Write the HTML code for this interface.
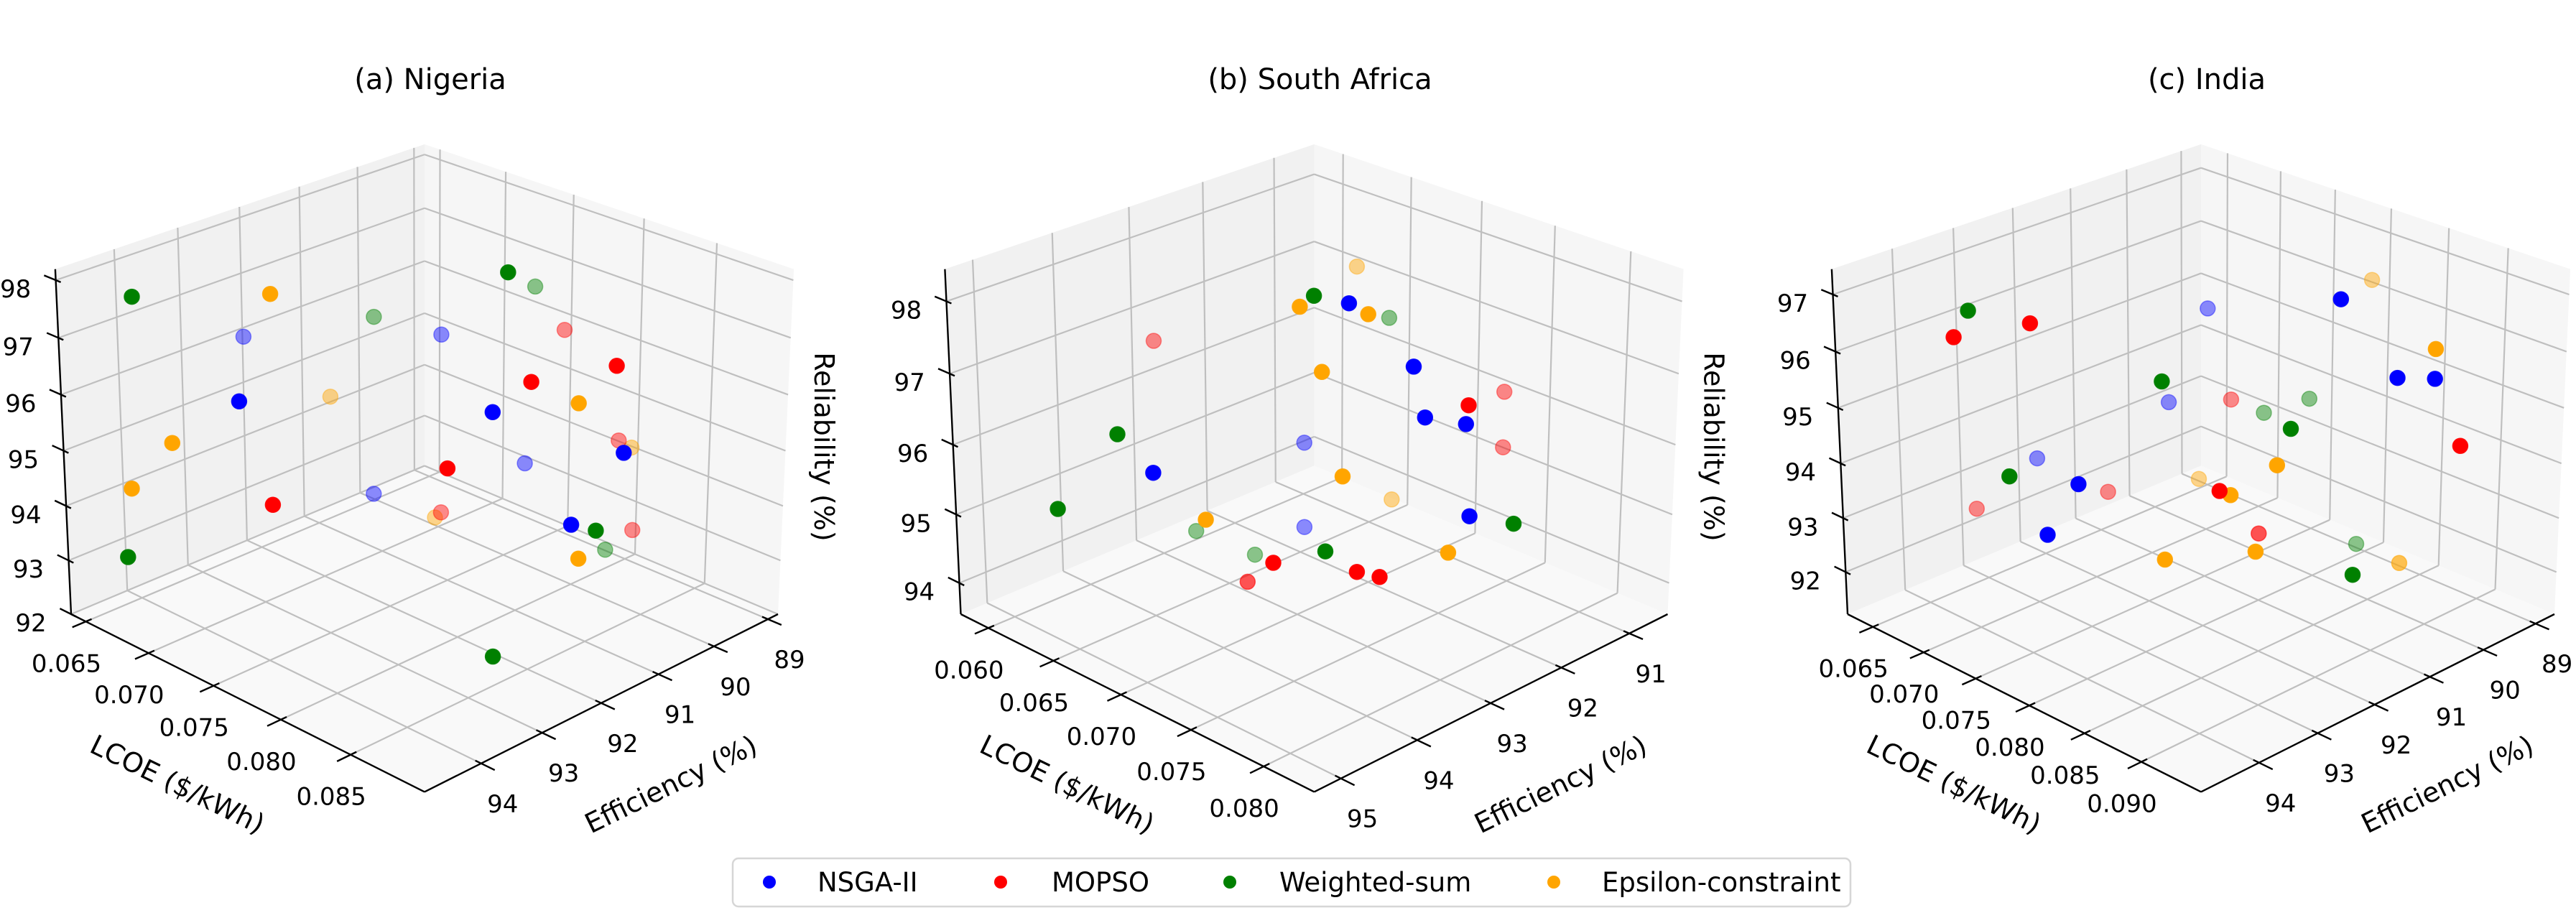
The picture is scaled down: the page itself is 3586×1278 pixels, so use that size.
<!DOCTYPE html>
<html><head><meta charset="utf-8"><style>
html,body{margin:0;padding:0;background:#fff;}
svg{display:block;font-family:"DejaVu Sans","Liberation Sans",sans-serif;}
</style></head><body>
<svg id="fig" width="3586" height="1278" viewBox="0 0 3586 1278" xmlns="http://www.w3.org/2000/svg">
<rect x="0" y="0" width="3586" height="1278" fill="#fff"/>
<g id="panels"></g>
<g id="legend">
  <rect x="1020" y="1195" width="1556" height="67" rx="8" fill="#fff" stroke="#d6d6d6" stroke-width="2.5"/>
  <g><circle cx="1071" cy="1228" r="9" fill="#0000ff"/><text x="1138" y="1241" font-size="37" fill="#000">NSGA-II</text></g>
  <g><circle cx="1393" cy="1228" r="9" fill="#ff0000"/><text x="1464" y="1241" font-size="37" fill="#000">MOPSO</text></g>
  <g><circle cx="1712" cy="1228" r="9" fill="#008000"/><text x="1781" y="1241" font-size="37" fill="#000">Weighted-sum</text></g>
  <g><circle cx="2163" cy="1228" r="9" fill="#ffa500"/><text x="2230" y="1241" font-size="37" fill="#000">Epsilon-constraint</text></g>
</g>
</svg>
<script>
// ---------- data: (a) Nigeria ----------
const nigeria_nsga_lcoe = [0.0663,0.0744,0.0711,0.0736,0.0833,0.0768,0.0879,0.0861];
const nigeria_nsga_eff  = [92.50,94.27,91.39,90.79,92.22,90.07,91.14,91.56];
const nigeria_nsga_rel  = [96.28,96.66,93.39,96.31,96.48,93.96,95.77,94.51];
const nigeria_mopso_lcoe = [0.0755,0.0817,0.0736,0.0782,0.0876,0.0846,0.0803,0.0809];
const nigeria_mopso_eff  = [94.01,92.58,90.79,89.74,91.22,91.90,89.25,89.11];
const nigeria_mopso_rel  = [94.86,95.50,93.03,96.40,97.27,96.99,94.38,92.70];
const nigeria_ws_lcoe = [0.0679,0.0711,0.0686,0.0799,0.0771,0.0870,0.0799,0.0828];
const nigeria_ws_eff  = [94.55,91.37,94.89,91.16,90.00,91.36,89.35,92.06];
const nigeria_ws_rel  = [97.95,96.63,93.59,98.13,97.18,94.41,92.33,92.00];
const nigeria_eps_lcoe = [0.0728,0.0695,0.0720,0.0691,0.0734,0.0863,0.0808,0.0864];
const nigeria_eps_eff  = [93.42,91.76,94.82,94.89,90.85,91.52,89.14,91.50];
const nigeria_eps_rel  = [98.00,95.19,95.94,94.87,92.94,96.63,94.25,93.91];
// ---------- data: (b) South Africa ----------
const sa_nsga_lcoe = [0.0737,0.0778,0.0782,0.0796,0.0664,0.0689,0.0664,0.0798];
const sa_nsga_eff  = [93.02,92.97,92.89,92.62,92.21,94.68,92.21,92.59];
const sa_nsga_rel  = [98.26,97.70,97.01,96.92,95.39,96.25,94.14,95.65];
const sa_mopso_lcoe = [0.0610,0.0737,0.0797,0.0737,0.0730,0.0656,0.0759,0.0767];
const sa_mopso_eff  = [93.26,90.82,92.61,90.82,93.89,92.86,93.33,93.18];
const sa_mopso_rel  = [96.87,96.14,97.18,95.33,94.99,93.55,94.86,94.79];
const sa_ws_lcoe = [0.0725,0.0695,0.0677,0.0656,0.0624,0.0813,0.0646,0.0748];
const sa_ws_eff  = [93.25,91.63,94.91,95.32,92.98,92.29,92.57,93.54];
const sa_ws_rel  = [98.36,97.20,96.78,95.75,94.08,95.54,93.73,95.15];
const sa_eps_lcoe = [0.0683,0.0720,0.0750,0.0747,0.0754,0.0696,0.0707,0.0791];
const sa_eps_eff  = [91.85,93.34,93.02,93.57,93.43,91.59,94.34,92.73];
const sa_eps_rel  = [97.92,98.21,98.21,97.63,96.20,94.55,95.60,95.14];
// ---------- data: (c) India ----------
const india_nsga_lcoe = [0.0742,0.0881,0.0724,0.0922,0.0938,0.0662,0.0783,0.0769];
const india_nsga_eff  = [90.79,91.25,91.14,91.10,90.78,92.33,93.79,94.06];
const india_nsga_rel  = [96.03,97.40,94.32,96.31,96.29,93.27,94.46,93.56];
const india_mopso_lcoe = [0.0755,0.0730,0.0753,0.0950,0.0695,0.0633,0.0845,0.0782];
const india_mopso_eff  = [94.03,94.81,90.58,90.55,91.69,92.89,92.59,90.64];
const india_mopso_rel  = [97.12,97.00,94.37,95.13,92.64,92.32,94.34,92.14];
const india_ws_lcoe = [0.0728,0.0820,0.0789,0.0768,0.0876,0.0753,0.0812,0.0904];
const india_ws_eff  = [94.54,93.08,89.87,90.28,91.99,94.38,89.42,91.44];
const india_ws_rel  = [97.33,96.25,94.38,94.12,95.43,94.60,91.65,92.84];
const india_eps_lcoe = [0.0817,0.0938,0.0738,0.0870,0.0850,0.0821,0.0861,0.0848];
const india_eps_eff  = [89.33,90.78,90.87,92.10,92.50,93.06,92.28,89.36];
const india_eps_rel  = [96.54,96.80,92.89,94.79,94.27,93.12,93.26,91.58];
// ---------- tick labels ----------
const nigeria_lcoe_ticks = ["0.065","0.070","0.075","0.080","0.085"];
const nigeria_eff_ticks = ["89","90","91","92","93","94"];
const nigeria_rel_ticks = ["92","93","94","95","96","97","98"];
const sa_lcoe_ticks = ["0.060","0.065","0.070","0.075","0.080"];
const sa_eff_ticks = ["91","92","93","94","95"];
const sa_rel_ticks = ["94","95","96","97","98"];
const india_lcoe_ticks = ["0.065","0.070","0.075","0.080","0.085","0.090"];
const india_eff_ticks = ["89","90","91","92","93","94"];
const india_rel_ticks = ["92","93","94","95","96","97"];
// ---------- axis limits ----------
const nigeria_limits = [0.0638,0.0901,88.81,94.90,92.00,98.19];
const sa_limits = [0.05783,0.08337,90.42,95.34,93.54,98.44];
const india_limits = [0.06245,0.09509,88.63,94.96,91.21,97.44];

const COLORS = ["#0000ff","#ff0000","#008000","#ffa500"];
const NS = "http://www.w3.org/2000/svg";
const EL = 24.5*Math.PI/180, DIST = 14, H = 0.742;
const sinE = Math.sin(EL), cosE = Math.cos(EL);

function mk(tag, attrs, parent){
  const e = document.createElementNS(NS, tag);
  for (const k in attrs) e.setAttribute(k, attrs[k]);
  parent.appendChild(e); return e;
}
function makeProj(cx){
  const mA = DIST/(DIST + H*sinE);
  const K = 492/(Math.SQRT2*mA);
  const cy = 855 - K*mA*H*cosE;
  return function(a,b,zz){
    const X=(a-b)/Math.SQRT2, q=(a+b)/Math.SQRT2;
    const Y=zz*cosE - q*sinE, Zc=q*cosE+zz*sinE;
    const m=DIST/(DIST-Zc);
    return [cx+K*m*X, cy-K*m*Y, Zc];
  };
}
function poly(pts){ return pts.map(p=>p[0].toFixed(1)+","+p[1].toFixed(1)).join(" "); }

function drawPanel(cfg){
  const root = document.getElementById("panels");
  const g = mk("g", {}, root);
  
  
  const P = makeProj(cfg.cx);
  const [Lmin,Lmax,Emin,Emax,Rmin,Rmax] = cfg.limits;
  const xa = L => 2*(L-Lmin)/(Lmax-Lmin)-1;
  const yb = E => 2*(E-Emin)/(Emax-Emin)-1;
  const zc = R => H*(2*(R-Rmin)/(Rmax-Rmin)-1);

  // panes
  const paneL = mk("polygon", {points: poly([P(-1,-1,-H),P(-1,1,-H),P(-1,1,H),P(-1,-1,H)]), fill:"#f1f1f1"}, g);
  
  
  const paneR = mk("polygon", {points: poly([P(-1,-1,-H),P(1,-1,-H),P(1,-1,H),P(-1,-1,H)]), fill:"#f6f6f6"}, g);
  
  
  const paneF = mk("polygon", {points: poly([P(-1,-1,-H),P(1,-1,-H),P(1,1,-H),P(-1,1,-H)]), fill:"#f9f9f9"}, g);
  
  

  const grid = mk("g", {stroke:"#bfbfbf", "stroke-width":"2.2", fill:"none"}, g);
  
  
  const line = (p,q,parent,attrs)=>{ const l=mk("line",Object.assign({x1:p[0],y1:p[1],x2:q[0],y2:q[1]},attrs||{}),parent); return l; };

  cfg.lcoeTicks.forEach(t=>{ const a=xa(parseFloat(t));
    const l1=line(P(a,-1,-H),P(a,-1,H),grid); 
    const l2=line(P(a,-1,-H),P(a,1,-H),grid);  });
  cfg.effTicks.forEach(t=>{ const b=yb(parseFloat(t));
    const l1=line(P(-1,b,-H),P(-1,b,H),grid); 
    const l2=line(P(-1,b,-H),P(1,b,-H),grid);  });
  cfg.relTicks.forEach(t=>{ const z=zc(parseFloat(t));
    const l1=line(P(-1,-1,z),P(-1,1,z),grid); 
    const l2=line(P(-1,-1,z),P(1,-1,z),grid);  });

  const ax = mk("g", {stroke:"#000", "stroke-width":"2.4"}, g);
  
  
  const la=line(P(-1,1,-H),P(1,1,-H),ax); 
  const ea=line(P(1,1,-H),P(1,-1,-H),ax); 
  const ra=line(P(-1,1,-H),P(-1,1,H),ax); 

  const txt = mk("g", {fill:"#000", "font-size":"34", "text-anchor":"middle"}, g);
  
  
  cfg.lcoeTicks.forEach(t=>{ const a=xa(parseFloat(t));
    const tk=line(P(a,0.97,-H),P(a,1.07,-H),ax); 
    const p=P(a,1,-H); const tx=mk("text",{x:p[0]-27,y:p[1]+70},txt); tx.textContent=t;
     });
  cfg.effTicks.forEach(t=>{ const b=yb(parseFloat(t));
    const tk=line(P(0.97,b,-H),P(1.07,b,-H),ax); 
    const p=P(1,b,-H); const tx=mk("text",{x:p[0]+30,y:p[1]+68},txt); tx.textContent=t;
     });
  cfg.relTicks.forEach(t=>{ const z=zc(parseFloat(t));
    const tk=line(P(-0.97,1,z),P(-1.07,1,z),ax); 
    const p=P(-1,1,z); const tx=mk("text",{x:p[0]-56,y:p[1]+24},txt); tx.textContent=t;
     });

  // axis titles
  const t1=mk("text",{x:cfg.cx-344,y:1092,"font-size":"38","text-anchor":"middle","dominant-baseline":"central",transform:`rotate(26 ${cfg.cx-344} 1092)`},g);
  t1.textContent="LCOE ($/kWh)";
  
  
  const t2=mk("text",{x:cfg.cx+343,y:1092,"font-size":"38","text-anchor":"middle","dominant-baseline":"central",transform:`rotate(-26 ${cfg.cx+343} 1092)`},g);
  t2.textContent="Efficiency (%)";
  
  
  const t3=mk("text",{x:cfg.cx+556,y:622,"font-size":"38","text-anchor":"middle","dominant-baseline":"central",transform:`rotate(90 ${cfg.cx+556} 622)`},g);
  t3.textContent="Reliability (%)";
  
  
  const tt=mk("text",{x:cfg.cx+8,y:124,"font-size":"40","text-anchor":"middle"},g);
  tt.textContent=cfg.title;
  
  

  // points
  const pts=[];
  cfg.series.forEach((s,si)=>{
    for(let i=0;i<s[0].length;i++){
      const a=xa(s[0][i]), b=yb(s[1][i]), z=zc(s[2][i]);
      const p=P(a,b,z); const depth=(a+b)/2+1;
      pts.push({p,si,depth,name:cfg.seriesNames[si]});
    }
  });
  pts.sort((u,v)=>u.p[2]-v.p[2]);
  const pg=mk("g",{},g);
  
  
  pts.forEach(o=>{
    const al=Math.min(1,0.45+Math.max(0,o.depth-0.7)*2.2);
    const c=mk("circle",{cx:o.p[0].toFixed(1),cy:o.p[1].toFixed(1),r:"10.5",fill:COLORS[o.si],"fill-opacity":al.toFixed(2),stroke:COLORS[o.si],"stroke-opacity":(al*0.9).toFixed(2),"stroke-width":"1.5"},pg);
    
    
  });
}

const seriesNames=["nsga-ii","mopso","weighted-sum","epsilon-constraint"];
drawPanel({name:"panel-nigeria",title:"(a) Nigeria",cx:591,limits:nigeria_limits,
  lcoeTicks:nigeria_lcoe_ticks,effTicks:nigeria_eff_ticks,relTicks:nigeria_rel_ticks,seriesNames,
  series:[[nigeria_nsga_lcoe,nigeria_nsga_eff,nigeria_nsga_rel],[nigeria_mopso_lcoe,nigeria_mopso_eff,nigeria_mopso_rel],
          [nigeria_ws_lcoe,nigeria_ws_eff,nigeria_ws_rel],[nigeria_eps_lcoe,nigeria_eps_eff,nigeria_eps_rel]]});
drawPanel({name:"panel-south-africa",title:"(b) South Africa",cx:1829.5,limits:sa_limits,
  lcoeTicks:sa_lcoe_ticks,effTicks:sa_eff_ticks,relTicks:sa_rel_ticks,seriesNames,
  series:[[sa_nsga_lcoe,sa_nsga_eff,sa_nsga_rel],[sa_mopso_lcoe,sa_mopso_eff,sa_mopso_rel],
          [sa_ws_lcoe,sa_ws_eff,sa_ws_rel],[sa_eps_lcoe,sa_eps_eff,sa_eps_rel]]});
drawPanel({name:"panel-india",title:"(c) India",cx:3064,limits:india_limits,
  lcoeTicks:india_lcoe_ticks,effTicks:india_eff_ticks,relTicks:india_rel_ticks,seriesNames,
  series:[[india_nsga_lcoe,india_nsga_eff,india_nsga_rel],[india_mopso_lcoe,india_mopso_eff,india_mopso_rel],
          [india_ws_lcoe,india_ws_eff,india_ws_rel],[india_eps_lcoe,india_eps_eff,india_eps_rel]]});
</script>
</body></html>
